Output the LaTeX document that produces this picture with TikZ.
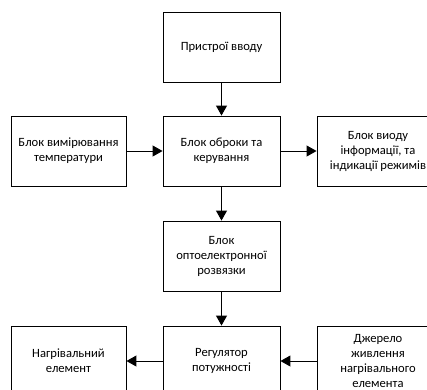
\documentclass[tikz,border=0pt]{standalone}
\usepackage{fontspec}
\setmainfont{Carlito}
\usetikzlibrary{arrows.meta}
\begin{document}
\begin{tikzpicture}[x=1pt,y=-1pt,
  blk/.style={draw,line width=0.9pt,minimum height=70pt,align=center,inner sep=2pt,
    font=\fontsize{12.6}{15}\selectfont},
  arr/.style={line width=1pt,-{Triangle[length=10pt,width=11pt]}}]
\clip (0,0) rectangle (427,389);
\useasboundingbox (0,0) rectangle (427,389);
\node[blk,minimum width=117pt] (inp) at (221.5,47) {Пристрої вводу};
\node[blk,minimum width=117pt] (ctl) at (221.5,151) {Блок оброки та\\керування};
\node[blk,minimum width=115pt] (tmp) at (68.5,151) {Блок вимірювання\\температури};
\node[blk,minimum width=122pt] (out) at (378,151) {Блок виоду\\інформації, та\\індикації режимів};
\node[blk,minimum width=117pt] (opt) at (221.5,256) {Блок\\оптоелектронної\\розвязки};
\node[blk,minimum width=117pt] (reg) at (221.5,361) {Регулятор\\потужності};
\node[blk,minimum width=115pt] (heat) at (68.5,361) {Нагрівальний\\елемент};
\node[blk,minimum width=122pt] (pwr) at (378,361) {Джерело\\живлення\\нагрівального\\елемента};
\draw[arr] (inp) -- (ctl);
\draw[arr] (tmp) -- (ctl);
\draw[arr] (ctl) -- (out);
\draw[arr] (ctl) -- (opt);
\draw[arr] (opt) -- (reg);
\draw[arr] (reg) -- (heat);
\draw[arr] (pwr) -- (reg);
\end{tikzpicture}
\end{document}
